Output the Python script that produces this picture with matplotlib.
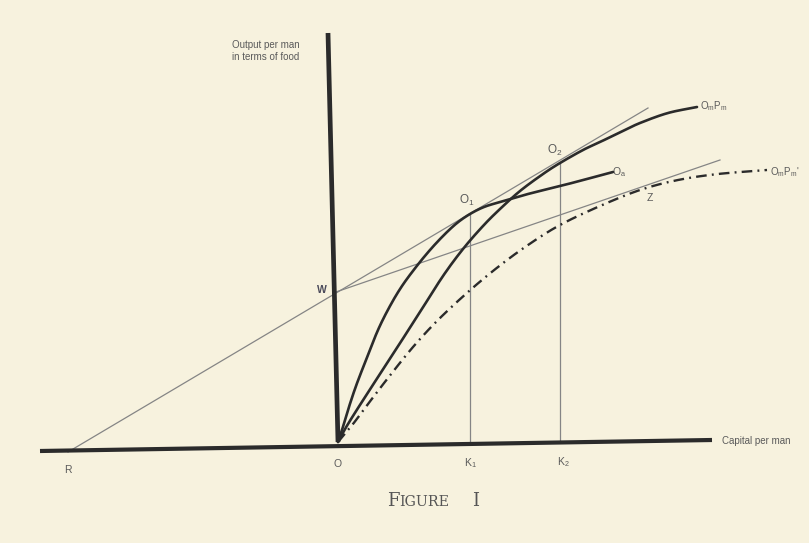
import matplotlib
matplotlib.use("Agg")
import matplotlib.pyplot as plt
import numpy as np

# ---- data (units: capital per man / output per man, arbitrary diagram units) ----
# Curve Oa (food output per man), passes through O1 where it touches line RW
oa_k = [0, 4, 10, 18, 28, 40, 52, 64, 78, 92, 106, 119, 132, 146, 162, 190, 230, 275]
oa_y = [0, 12, 32, 56, 82, 112, 136, 156, 175, 192, 207, 219, 228, 235, 240, 248, 258, 270]

# Curve Om*Pm (manufactures output valued at price Pm), touches line RW at O2
om_k = [0, 10, 29, 55, 82, 105, 125, 145, 162, 182, 205, 222, 245, 262, 285, 302, 330, 359]
om_y = [0, 18, 48, 88, 130, 166, 193, 216, 233, 251, 268, 279, 292, 300, 311, 319, 329, 335]

# Curve Om*Pm' (lower price), touches line from W at Z
omp_k = [0, 15, 30, 50, 75, 100, 130, 160, 190, 222, 262, 302, 340, 380, 429]
omp_y = [0, 18, 38, 64, 95, 122, 150, 175, 197, 217, 236, 252, 262, 268, 272]

# Straight lines
rw_line_k = [-270, 310]      # R -> W -> tangent at O1 and O2
rw_line_y = [-10, 334]
wz_line_k = [-5, 382]        # W -> tangent at Z
wz_line_y = [149, 282]

x_axis_k = [-298, 374]
x_axis_y = [-9, 2]
y_axis_k = [0, -10]
y_axis_y = [0, 409]

k1 = 132
k1_top = 228
k2 = 222
k2_top = 279


def smooth(xs, ys, n=16):
    """Catmull-Rom spline through the given points (drawing only)."""
    p = np.column_stack([xs, ys]).astype(float)
    p = np.vstack([2 * p[0] - p[1], p, 2 * p[-1] - p[-2]])
    out = []
    t = np.linspace(0, 1, n, endpoint=False)[:, None]
    for i in range(1, len(p) - 2):
        p0, p1, p2, p3 = p[i - 1], p[i], p[i + 1], p[i + 2]
        seg = 0.5 * ((2 * p1) + (-p0 + p2) * t + (2 * p0 - 5 * p1 + 4 * p2 - p3) * t ** 2
                     + (-p0 + 3 * p1 - 3 * p2 + p3) * t ** 3)
        out.append(seg)
    out.append(p[-2][None, :])
    out = np.vstack(out)
    return out[:, 0], out[:, 1]


# ---- styles ----
bg = "#f7f2de"
dark = "#2b2b2b"
thin = "#858585"
txt = "#5a5a5a"

fig = plt.figure(figsize=(8.09, 5.43), dpi=100)
fig.patch.set_facecolor(bg)
ax = fig.add_axes([0, 0, 1, 1])
ax.set_facecolor(bg)
ax.set_xlim(-338, 809 - 338)
ax.set_ylim(442 - 543, 442)
ax.axis("off")

# axes
ax.plot(x_axis_k, x_axis_y, color=dark, lw=3.0, solid_capstyle="butt", zorder=3)
ax.plot(y_axis_k, y_axis_y, color=dark, lw=3.4, solid_capstyle="butt", zorder=3)

# thin lines
ax.plot(rw_line_k, rw_line_y, color=thin, lw=0.9, zorder=2)
ax.plot(wz_line_k, wz_line_y, color=thin, lw=0.9, zorder=2)
ax.plot([k1, k1], [0, k1_top], color=thin, lw=0.9, zorder=2)
ax.plot([k2, k2], [0, k2_top], color=thin, lw=0.9, zorder=2)

# curves
ax.plot(*smooth(oa_k, oa_y), color=dark, lw=1.9, zorder=4, solid_capstyle="round")
ax.plot(*smooth(om_k, om_y), color=dark, lw=1.9, zorder=4, solid_capstyle="round")
ax.plot(*smooth(omp_k, omp_y), color=dark, lw=1.7, zorder=4, dashes=(4.5, 2.2, 0.8, 2.2))

# labels
fs = 7
ax.text(-106, 402, "Output per man\nin terms of food", fontsize=fs, color=txt,
        ha="left", va="top", linespacing=1.25, family="Liberation Sans")
ax.text(384, 1, "Capital per man", fontsize=fs, color=txt, ha="left", va="center",
        family="Liberation Sans")
for lab, kx, ky in [("R", -270, -28), ("O", 0, -22), ("$\\mathregular{K_1}$", k1, -21),
                    ("$\\mathregular{K_2}$", k2 + 3, -20)]:
    ax.text(kx, ky, lab, fontsize=7.5, color=txt, ha="center", va="center",
            family="Liberation Sans")
ax.text(-16, 152, "W", fontsize=7.5, color="#4a4a5a", ha="center", va="center",
        family="Liberation Sans", weight="bold")
ax.text(129, 242, "$\\mathregular{O_1}$", fontsize=8.5, color=txt, ha="center", va="center",
        family="Liberation Sans")
ax.text(217, 292, "$\\mathregular{O_2}$", fontsize=8.5, color=txt, ha="center", va="center",
        family="Liberation Sans")
ax.text(274, 270, "$\\mathregular{O_a}$", fontsize=7.5, color=txt, ha="left", va="center",
        family="Liberation Sans")
ax.text(312, 244, "Z", fontsize=7.5, color=txt, ha="center", va="center",
        family="Liberation Sans")
ax.text(362, 336, "$\\mathregular{O_mP_m}$", fontsize=7, color=txt, ha="left", va="center",
        family="Liberation Sans")
ax.text(432, 270, "$\\mathregular{O_mP_m}$'", fontsize=7, color=txt, ha="left", va="center",
        family="Liberation Sans")

# caption in small caps
cap_y = -64
ax.text(49, cap_y, "F", fontsize=13, color="#555555", ha="left", va="baseline",
        family="DejaVu Serif")
ax.text(61, cap_y, "IGURE", fontsize=10.2, color="#555555", ha="left", va="baseline",
        family="DejaVu Serif")
ax.text(134, cap_y, "I", fontsize=13, color="#555555", ha="left", va="baseline",
        family="DejaVu Serif")

fig.savefig("out.png", dpi=100, facecolor=bg)
